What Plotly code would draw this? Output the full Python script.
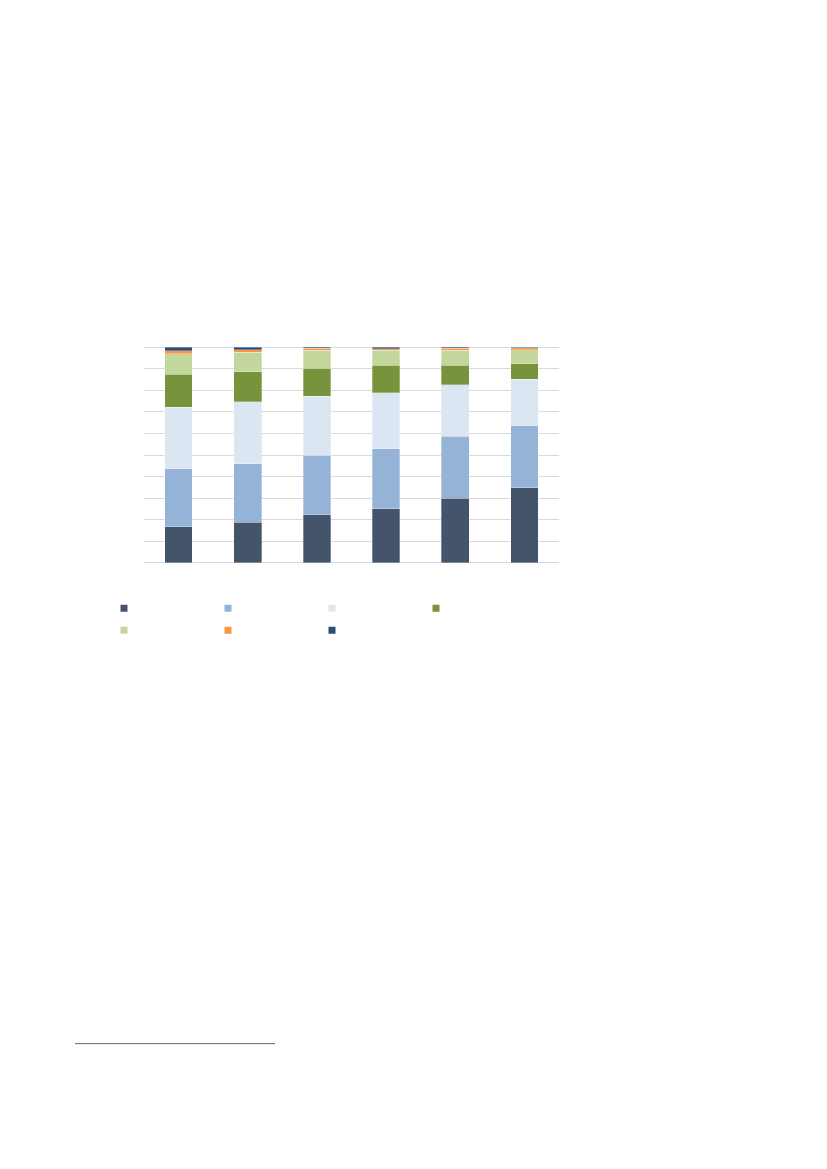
import plotly.graph_objects as go

# six columns, seven stacked shares (percent), bottom to top
categories = ["1", "2", "3", "4", "5", "6"]
series_names = ["Serie 1", "Serie 2", "Serie 3", "Serie 4", "Serie 5", "Serie 6", "Serie 7"]

s1 = [16.8, 18.8, 22.4, 25.0, 29.9, 34.9]
s2 = [26.9, 27.2, 27.4, 27.9, 28.7, 28.7]
s3 = [28.5, 28.8, 27.4, 26.0, 24.0, 21.6]
s4 = [15.3, 13.9, 13.1, 12.6, 8.9, 7.2]
s5 = [9.4, 9.0, 8.2, 7.1, 7.0, 6.4]
s6 = [1.4, 1.2, 0.9, 0.6, 0.9, 1.0]
s7 = [1.7, 1.1, 0.6, 0.8, 0.6, 0.2]

values = [s1, s2, s3, s4, s5, s6, s7]
colors = ["#44546A", "#95B3D7", "#DCE6F2", "#77933C", "#C3D69B", "#F79646", "#2E4D77"]

# page body adds an 8px offset, so positions are shifted back by it
OFF = 8
W, H = 827, 1169
y0px, y100px = 563 - OFF, 347 - OFF     # where 0 % and 100 % sit
EXT = 1.0                               # pad the y range so end gridlines are drawn
unit = (y0px - y100px) / 100
L, R = 144 - OFF, 559 - OFF
T, B = y100px - EXT * unit, y0px + EXT * unit
pw, ph = R - L, B - T

fig = go.Figure()
for i, (name, vals, col) in enumerate(zip(series_names, values, colors)):
    fig.add_trace(go.Bar(x=categories, y=vals, name=name, showlegend=False,
                         marker=dict(color=col, line=dict(color="rgba(255,255,255,0.5)", width=0.6))))
    # small square legend markers, four in the first row, three in the second
    fig.add_trace(go.Scatter(x=[None], y=[None], mode="markers", name=name,
                             legend="legend" if i < 4 else "legend2",
                             marker=dict(symbol="square", size=7, color=col)))

# footnote separator line
fig.add_shape(type="line", xref="paper", yref="paper",
              x0=(75 - OFF - L) / pw, x1=(275 - OFF - L) / pw,
              y0=(B - (1044.5 - OFF)) / ph, y1=(B - (1044.5 - OFF)) / ph,
              line=dict(color="#666666", width=1))

leg = dict(orientation="h", traceorder="normal",
           x=(104 - OFF - L) / pw, xanchor="left", yanchor="top",
           entrywidth=59, entrywidthmode="pixels", tracegroupgap=0,
           bgcolor="rgba(0,0,0,0)",
           font=dict(size=10, color="rgba(0,0,0,0)"))

fig.update_layout(
    width=W, height=H,
    margin=dict(l=L, r=W - R, t=T, b=H - B),
    barmode="stack", bargap=0.6,
    plot_bgcolor="white", paper_bgcolor="white",
    font=dict(family="Liberation Sans", size=10, color="rgba(0,0,0,0)"),
    legend=dict(leg, y=(B - (594 - OFF)) / ph),
    legend2=dict(leg, y=(B - (616 - OFF)) / ph),
)
fig.update_xaxes(showticklabels=False, showgrid=False, zeroline=False, showline=False,
                 range=[-0.5, 5.5], fixedrange=True)
fig.update_yaxes(range=[-EXT, 100 + EXT], tickvals=list(range(0, 101, 10)), showticklabels=False,
                 showgrid=True, gridcolor="#D9D9D9", gridwidth=1, zeroline=False, showline=False)

fig.write_html("out.html")
